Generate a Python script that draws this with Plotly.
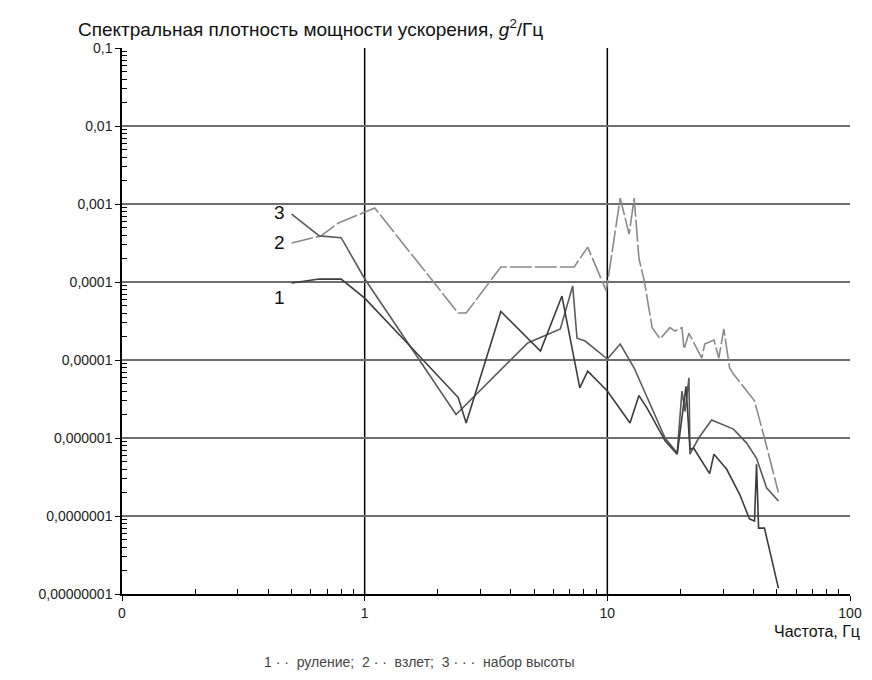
import numpy as np
import plotly.graph_objects as go

# Curve 1 - руление
freq_1 = [0.50, 0.65, 0.80, 1.0, 1.47, 2.43, 2.62, 3.64, 5.3, 6.5, 7.7, 8.3, 10.0, 12.4, 13.5,
          14.6, 17.3, 19.4, 21.1, 21.9, 22.7, 26.4, 27.5, 31.0, 35.1, 38.5, 40.4, 41.2, 42.0,
          44.4, 50.7]
psd_1 = [9.7e-5, 1.09e-4, 1.09e-4, 6.2e-5, 1.75e-5, 3.3e-6, 1.56e-6, 4.2e-5, 1.3e-5, 6.6e-5,
         4.4e-6, 7.2e-6, 4.0e-6, 1.56e-6, 3.5e-6, 2.4e-6, 9.2e-7, 6.2e-7, 4.6e-6, 7.2e-7,
         7.4e-7, 3.5e-7, 6.2e-7, 4.0e-7, 1.9e-7, 9.2e-8, 8.6e-8, 4.6e-7, 7.0e-8, 7.0e-8, 1.19e-8]

# Curve 2 - взлет
freq_2 = [0.50, 0.66, 0.78, 1.10, 2.43, 2.62, 3.64, 7.3, 8.3, 9.9, 11.3, 12.3, 12.9, 13.5,
          14.2, 15.3, 16.5, 18.1, 19.0, 20.3, 20.7, 21.7, 24.5, 25.2, 27.5, 28.8, 30.2, 31.9,
          33.1, 40.4, 44.4, 50.7]
psd_2 = [3.16e-4, 3.9e-4, 5.7e-4, 8.9e-4, 4.0e-5, 4.0e-5, 1.56e-4, 1.56e-4, 2.8e-4, 7.7e-5,
         1.19e-3, 4.1e-4, 1.19e-3, 2.0e-4, 1.03e-4, 2.6e-5, 1.86e-5, 2.6e-5, 2.35e-5, 2.6e-5,
         1.38e-5, 2.2e-5, 1.06e-5, 1.6e-5, 1.8e-5, 1.06e-5, 2.5e-5, 7.9e-6, 6.6e-6, 3.0e-6,
         1.0e-6, 2.0e-7]

# Curve 3 - набор высоты
freq_3 = [0.50, 0.65, 0.80, 1.0, 2.38, 4.7, 6.4, 7.2, 7.5, 8.1, 10.0, 11.3, 12.9, 17.3, 19.4,
          20.3, 20.9, 21.7, 21.9, 23.8, 26.9, 33.1, 37.5, 41.2, 45.3, 50.7]
psd_3 = [7.4e-4, 3.9e-4, 3.7e-4, 1.1e-4, 2.0e-6, 1.65e-5, 2.5e-5, 8.9e-5, 1.9e-5, 1.75e-5,
         1.03e-5, 1.6e-5, 7.9e-6, 1.0e-6, 6.4e-7, 4.0e-6, 2.2e-6, 5.9e-6, 6.2e-7, 1.0e-6,
         1.7e-6, 1.3e-6, 8.6e-7, 5.5e-7, 2.3e-7, 1.56e-7]

x_tickvals = [0.1, 1, 10, 100]
x_ticktext = ["0", "1", "10", "100"]
y_tickvals = [1e-8, 1e-7, 1e-6, 1e-5, 1e-4, 1e-3, 1e-2, 1e-1]
y_ticktext = ["0,00000001", "0,0000001", "0,000001", "0,00001", "0,0001", "0,001", "0,01", "0,1"]
x_grid = [1, 10]

# curve number labels near line starts
label_text = ["3", "2", "1"]
label_x = [0.445, 0.445, 0.445]
label_y = [7.7e-4, 3.2e-4, 6.4e-5]

# minor ticks 2..9 within each decade
x_minor = [m * 10.0 ** d for d in range(-1, 2) for m in range(2, 10)]
y_minor = [m * 10.0 ** d for d in range(-8, -1) for m in range(2, 10)]

FONT = "Liberation Sans, Arial, sans-serif"

fig = go.Figure()
fig.add_trace(go.Scatter(x=freq_2, y=psd_2, mode="lines", name="взлет",
                         line=dict(color="#8a8a8a", width=1.6, dash="22px,3px")))
fig.add_trace(go.Scatter(x=freq_3, y=psd_3, mode="lines", name="набор высоты",
                         line=dict(color="#5a5a5a", width=1.6)))
fig.add_trace(go.Scatter(x=freq_1, y=psd_1, mode="lines", name="руление",
                         line=dict(color="#3c3c3c", width=1.6)))

for gx in x_grid:
    fig.add_vline(x=gx, line=dict(color="black", width=1.5), layer="below")

for t, lx, ly in zip(label_text, label_x, label_y):
    fig.add_annotation(x=np.log10(lx), y=np.log10(ly), text=t, showarrow=False,
                       font=dict(size=19, color="#111", family=FONT))

fig.update_xaxes(
    type="log", range=[-1, 2], tickvals=x_tickvals, ticktext=x_ticktext,
    showgrid=False, showline=True, linecolor="black", linewidth=1.5,
    ticks="outside", ticklen=5, tickcolor="black", automargin=False,
    minor=dict(tickvals=x_minor, ticks="inside", ticklen=5, tickcolor="black", showgrid=False),
    tickfont=dict(size=14, color="#222", family=FONT), zeroline=False,
)
fig.update_yaxes(
    type="log", range=[-8, -1], tickvals=y_tickvals, ticktext=y_ticktext,
    showgrid=True, gridcolor="#6e6e6e", gridwidth=2,
    showline=True, linecolor="black", linewidth=1.5,
    ticks="outside", ticklen=5, tickcolor="black", automargin=False,
    minor=dict(tickvals=y_minor, ticks="inside", ticklen=5, tickcolor="black", showgrid=False),
    tickfont=dict(size=14, color="#222", family=FONT), zeroline=False,
)

fig.add_annotation(xref="paper", yref="paper", x=-0.063, y=1.037, xanchor="left", yanchor="middle",
                   text="Спектральная плотность мощности ускорения, <i>g</i><sup>2</sup>/Гц",
                   showarrow=False, font=dict(size=19, color="#111", family=FONT))
fig.add_annotation(xref="paper", yref="paper", x=1.017, y=-0.068, xanchor="right", yanchor="middle",
                   text="Частота, Гц", showarrow=False, font=dict(size=16, color="#111", family=FONT))
fig.add_annotation(xref="paper", yref="paper", x=0.409, y=-0.125, xanchor="center", yanchor="middle",
                   text="1 · ·  руление;  2 · ·  взлет;  3 · · ·  набор высоты", showarrow=False,
                   font=dict(size=14, color="#444", family=FONT))

# page adds an 8px body margin, so the figure is shifted accordingly
fig.update_layout(
    width=856, height=664,
    margin=dict(l=114, r=14, t=40, b=78, autoexpand=False),
    paper_bgcolor="white", plot_bgcolor="white",
    showlegend=False,
    font=dict(family=FONT),
)

fig.write_html("out.html")
